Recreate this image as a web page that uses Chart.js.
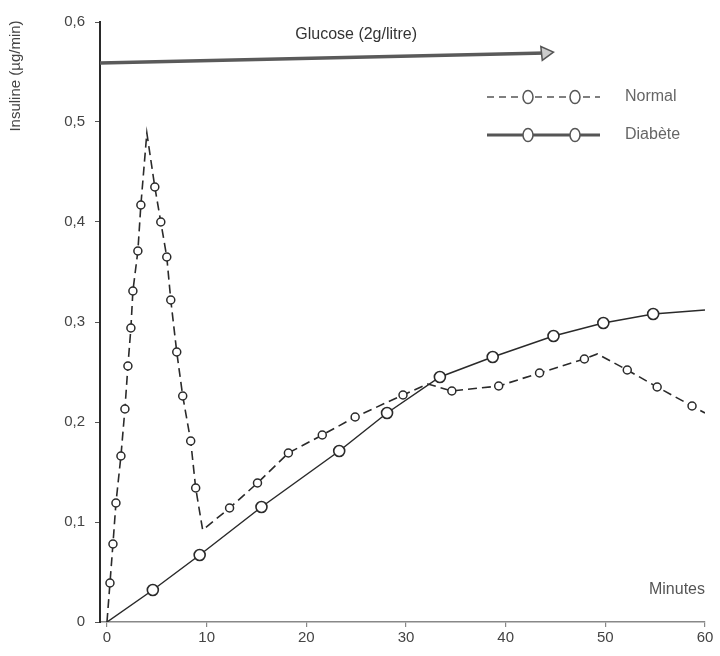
<!DOCTYPE html>
<html>
<head>
<meta charset="utf-8">
<script src="https://cdn.jsdelivr.net/npm/chart.js@4/dist/chart.umd.min.js"></script>
<style>
  body { margin: 0; background: #fff; }
</style>
</head>
<body>
<canvas id="insulinChart" width="720" height="656"></canvas>
<script>
// Normal subject: insulin (µg/min) vs minutes
const normalMinutes = [0, 0.3, 0.6, 0.9, 1.4, 1.8, 2.1, 2.4, 2.6, 3.1, 3.4, 4.0,
    4.8, 5.4, 6.0, 6.4, 7.0, 7.6, 8.4, 8.9, 9.6,
    12.3, 15.1, 18.2, 21.6, 24.9, 29.7, 32.2, 34.6, 39.3, 43.4, 47.9, 49.2,
    52.2, 55.2, 58.7, 60];
const normalInsulin = [0, 0.039, 0.078, 0.119, 0.166, 0.213, 0.256, 0.294, 0.331, 0.371, 0.417, 0.489,
    0.435, 0.400, 0.365, 0.322, 0.270, 0.226, 0.181, 0.134, 0.092,
    0.114, 0.139, 0.169, 0.187, 0.205, 0.227, 0.238, 0.231, 0.236, 0.249, 0.263, 0.268,
    0.252, 0.235, 0.216, 0.209];

// Diabetic subject
const diabetesMinutes = [0, 4.6, 9.3, 15.5, 23.3, 28.1, 33.4, 38.7, 44.8, 49.8, 54.8, 60];
const diabetesInsulin = [0, 0.032, 0.067, 0.115, 0.171, 0.209, 0.245, 0.265, 0.286, 0.299, 0.308, 0.312];

// Glucose infusion arrow
const glucoseMinutes = [-0.7, 44];
const glucoseLevel = [0.559, 0.569];

const xTicks = [0, 10, 20, 30, 40, 50, 60];
const yTicks = [0, 0.1, 0.2, 0.3, 0.4, 0.5, 0.6];

// turning points drawn without a circle
const normalPlain = new Set([0, 4.0, 9.6, 32.2, 49.2, 60]);
const diabetesPlain = new Set([0, 60]);

const toPoints = (xs, ys) => xs.map((x, i) => ({ x: x, y: ys[i] }));
const ink = '#2a2a2a';
const greyText = '#555';
const font = '"Liberation Sans Narrow", "Liberation Sans", Arial, sans-serif';

// texts and custom legend
const extras = {
    id: 'extras',
    afterDraw(chart) {
        const c = chart.ctx;
        const xs = chart.scales.x, ys = chart.scales.y;
        c.save();
        c.fillStyle = '#333';
        c.font = '16px ' + font;
        c.textAlign = 'center';
        c.textBaseline = 'middle';
        c.fillText('Glucose (2g/litre)', xs.getPixelForValue(25), ys.getPixelForValue(0.587));
        c.textAlign = 'right';
        c.fillStyle = greyText;
        c.fillText('Minutes', chart.chartArea.right, ys.getPixelForValue(0.032));

        // y title
        c.save();
        c.translate(16, 76);
        c.rotate(-Math.PI / 2);
        c.textAlign = 'center';
        c.font = '15px ' + font;
        c.fillStyle = '#444';
        c.fillText('Insuline (µg/min)', 0, 0);
        c.restore();

        // legend
        const lx0 = 487, lx1 = 600;
        const rows = [
            { label: 'Normal', y: 97, dash: [7, 5], width: 1.5, r: 6.5 },
            { label: 'Diabète', y: 135, dash: [], width: 3, r: 6.5 }
        ];
        rows.forEach(row => {
            c.strokeStyle = '#555';
            c.lineWidth = row.width;
            c.setLineDash(row.dash);
            c.beginPath();
            c.moveTo(lx0, row.y);
            c.lineTo(lx1, row.y);
            c.stroke();
            c.setLineDash([]);
            c.lineWidth = 1.5;
            [528, 575].forEach(cx => {
                c.beginPath();
                c.ellipse(cx, row.y, row.r - 1.5, row.r, 0, 0, Math.PI * 2);
                c.fillStyle = '#fff';
                c.fill();
                c.stroke();
            });
            c.fillStyle = '#666';
            c.font = '16px ' + font;
            c.textAlign = 'left';
            c.fillText(row.label, 625, row.y);
        });
        c.restore();
    }
};

const ctx = document.getElementById('insulinChart').getContext('2d');
const insulinChart = new Chart(ctx, {
    type: 'line',
    data: {
        datasets: [
            {
                label: 'Normal',
                data: toPoints(normalMinutes, normalInsulin),
                borderColor: ink,
                borderWidth: 1.6,
                borderDash: [9, 5],
                pointBackgroundColor: '#fff',
                pointBorderColor: ink,
                pointBorderWidth: 1.5,
                pointRadius: c => normalPlain.has(c.raw.x) ? 0 : 4,
                tension: 0
            },
            {
                label: 'Diabète',
                data: toPoints(diabetesMinutes, diabetesInsulin),
                borderColor: ink,
                borderWidth: 1.5,
                pointBackgroundColor: '#fff',
                pointBorderColor: ink,
                pointBorderWidth: 1.6,
                pointRadius: c => diabetesPlain.has(c.raw.x) ? 0 : 5.5,
                tension: 0
            },
            {
                label: 'Glucose',
                data: toPoints(glucoseMinutes, glucoseLevel),
                borderColor: '#5a5a5a',
                borderWidth: 3.5,
                pointStyle: 'triangle',
                rotation: 84,
                pointBackgroundColor: '#ccc',
                pointBorderColor: '#555',
                pointBorderWidth: 1.5,
                pointRadius: c => c.dataIndex === glucoseMinutes.length - 1 ? 8 : 0,
                clip: false
            }
        ]
    },
    options: {
        responsive: false,
        animation: false,
        layout: { padding: { top: 22, right: 15, left: 0, bottom: 0 } },
        plugins: { legend: { display: false }, tooltip: { enabled: false } },
        scales: {
            x: {
                type: 'linear',
                min: -0.7,
                max: 60,
                afterBuildTicks: s => { s.ticks = xTicks.map(v => ({ value: v })); },
                afterFit: s => { s.height = 34; },
                ticks: { color: '#444', font: { family: font, size: 15 }, padding: 2, maxRotation: 0, autoSkip: false },
                grid: { drawOnChartArea: false, tickLength: 5, color: '#888', lineWidth: 1.2 },
                border: { color: '#888', width: 1.4 }
            },
            y: {
                min: 0,
                max: 0.6,
                afterBuildTicks: s => { s.ticks = yTicks.map(v => ({ value: v })); },
                afterFit: s => { s.width = 100; },
                ticks: {
                    color: '#444',
                    font: { family: font, size: 15 },
                    padding: 10,
                    callback: v => v === 0 ? '0' : v.toFixed(1).replace('.', ',')
                },
                grid: { drawOnChartArea: false, tickLength: 5, color: '#555' },
                border: { color: ink, width: 2 }
            }
        }
    },
    plugins: [extras]
});
</script>
</body>
</html>
